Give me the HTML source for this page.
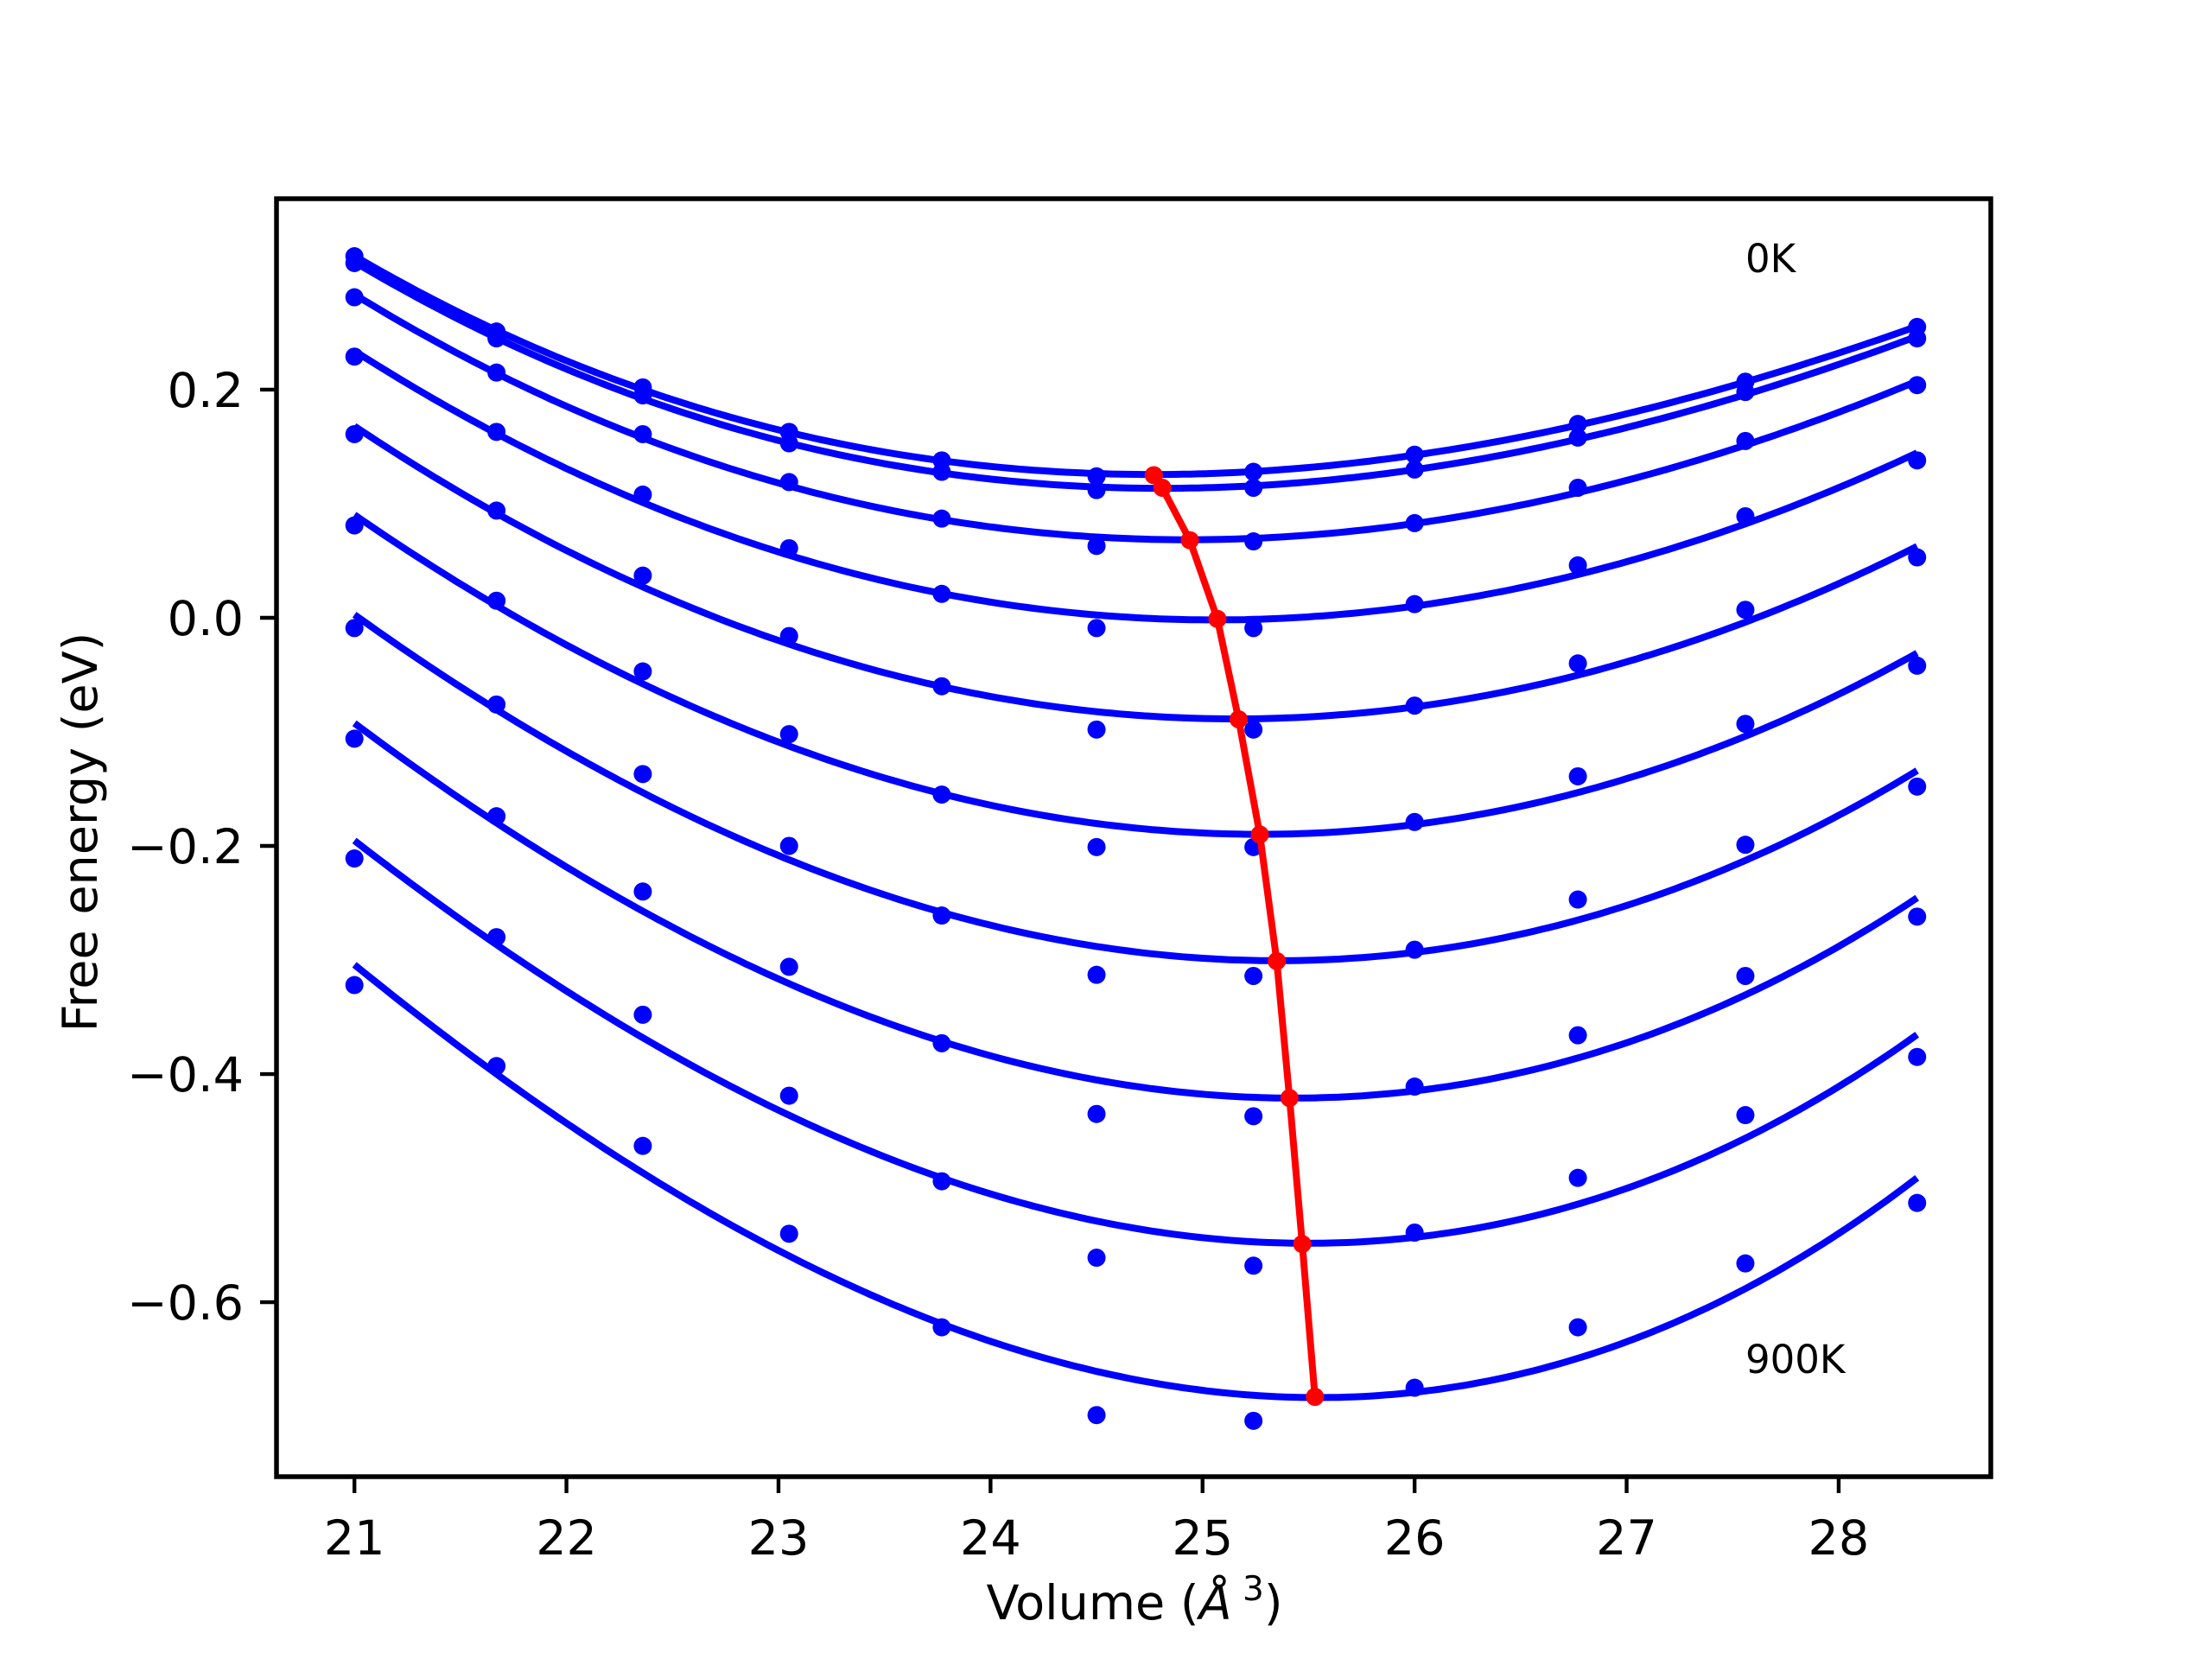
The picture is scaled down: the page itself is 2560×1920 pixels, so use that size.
<!DOCTYPE html>
<html><head><meta charset="utf-8"><style>
html,body{margin:0;padding:0;background:#fff;width:2560px;height:1920px;overflow:hidden;}
svg{display:block;}
svg text{font-family:"DejaVu Sans","Liberation Sans",sans-serif;}
</style></head><body>
<svg id="chart" xmlns="http://www.w3.org/2000/svg" width="2560" height="1920" viewBox="0 0 2560 1920">
<rect x="0" y="0" width="2560" height="1920" fill="#fff"/>
<g id="plot"></g>
<g id="axes"></g>
<text x="1313" y="1874" font-size="55.6" text-anchor="middle">Volume (<tspan font-style="italic">Å</tspan><tspan font-size="39" dy="-22"> 3</tspan><tspan dy="22">)</tspan></text>
<text x="0" y="0" font-size="55.6" text-anchor="middle" transform="translate(112,963) rotate(-90)">Free energy (eV)</text>
<text x="2020" y="315" font-size="45">0K</text>
<text x="2020" y="1589" font-size="45">900K</text>
</svg>
<script>
const volumes = [21.0, 21.67, 22.36, 23.05, 23.77, 24.5, 25.24, 26.0, 26.77, 27.56, 28.37];
const energies0K   = [0.317, 0.251, 0.202, 0.163, 0.138, 0.124, 0.128, 0.143, 0.170, 0.207, 0.255];
const energies100K = [0.311, 0.245, 0.195, 0.153, 0.128, 0.112, 0.114, 0.130, 0.158, 0.198, 0.245];
const energies200K = [0.281, 0.215, 0.161, 0.119, 0.087, 0.063, 0.067, 0.083, 0.114, 0.155, 0.204];
const energies300K = [0.229, 0.163, 0.108, 0.061, 0.021, -0.009, -0.009, 0.012, 0.046, 0.089, 0.138];
const energies400K = [0.161, 0.094, 0.037, -0.016, -0.060, -0.098, -0.098, -0.077, -0.040, 0.007, 0.053];
const energies500K = [0.081, 0.015, -0.047, -0.102, -0.155, -0.201, -0.201, -0.179, -0.139, -0.093, -0.042];
const energies600K = [-0.009, -0.076, -0.137, -0.200, -0.261, -0.313, -0.314, -0.291, -0.247, -0.199, -0.148];
const energies700K = [-0.106, -0.174, -0.240, -0.306, -0.373, -0.435, -0.437, -0.411, -0.366, -0.314, -0.262];
const energies800K = [-0.211, -0.280, -0.348, -0.419, -0.494, -0.561, -0.568, -0.539, -0.491, -0.436, -0.385];
const energies900K = [-0.322, -0.393, -0.463, -0.540, -0.622, -0.699, -0.704, -0.675, -0.622, -0.566, -0.513];
const minVolumes = [24.77, 24.81, 24.94, 25.07, 25.17, 25.27, 25.35, 25.41, 25.47, 25.53];
const minEnergies = [0.125, 0.114, 0.068, -0.001, -0.089, -0.190, -0.301, -0.421, -0.549, -0.683];
const xTicks = [21, 22, 23, 24, 25, 26, 27, 28];
const yTicks = [0.2, 0.0, -0.2, -0.4, -0.6];
const yTickLabels = ["0.2", "0.0", "\u22120.2", "\u22120.4", "\u22120.6"];

const series = [energies0K, energies100K, energies200K, energies300K, energies400K,
                energies500K, energies600K, energies700K, energies800K, energies900K];
const L = 320, R = 2304, T = 230, B = 1709;
const xMin = 20.6325, xMax = 28.7175, yMin = -0.753, yMax = 0.3674;
function sx(v){ return L + (v - xMin) / (xMax - xMin) * (R - L); }
function sy(e){ return B - (e - yMin) / (yMax - yMin) * (B - T); }
const NS = "http://www.w3.org/2000/svg";
function mk(tag, attrs, parent){ const el = document.createElementNS(NS, tag); for (const k in attrs) el.setAttribute(k, attrs[k]); parent.appendChild(el); return el; }
const plot = document.getElementById('plot');
const axes = document.getElementById('axes');

function cubicFit(xs, ys){
  const c = 24.7, n = 4;
  const A = [], b = [];
  for (let i=0;i<n;i++){ A.push(new Array(n).fill(0)); b.push(0); }
  xs.forEach((x,k)=>{ const t = x - c; const p=[1,t,t*t,t*t*t];
    for(let i=0;i<n;i++){ b[i]+=p[i]*ys[k]; for(let j=0;j<n;j++) A[i][j]+=p[i]*p[j]; } });
  for (let i=0;i<n;i++){ let m=i; for(let r=i+1;r<n;r++) if(Math.abs(A[r][i])>Math.abs(A[m][i])) m=r;
    [A[i],A[m]]=[A[m],A[i]]; [b[i],b[m]]=[b[m],b[i]];
    for(let r=i+1;r<n;r++){ const f=A[r][i]/A[i][i]; for(let j=i;j<n;j++) A[r][j]-=f*A[i][j]; b[r]-=f*b[i]; } }
  const co = new Array(n).fill(0);
  for (let i=n-1;i>=0;i--){ let s=b[i]; for(let j=i+1;j<n;j++) s-=A[i][j]*co[j]; co[i]=s/A[i][i]; }
  return x => { const t=x-c; return co[0]+co[1]*t+co[2]*t*t+co[3]*t*t*t; };
}

series.forEach((ys, si) => {
  const f = cubicFit(volumes, ys);
  const v0 = volumes[0], v1 = volumes[volumes.length-1];
  let d = "";
  for (let i=0;i<=200;i++){ const v = v0 + (v1-v0)*i/200; d += (i?"L":"M") + sx(v).toFixed(1) + "," + sy(f(v)).toFixed(1); }
  const p = mk('path', {d:d, fill:'none', stroke:'#0000ff', 'stroke-width':8}, plot);
  
  
  ys.forEach((e, i) => {
    const c = mk('circle', {cx:sx(volumes[i]), cy:sy(e), r:10.5, fill:'#0000ff'}, plot);
    
    
  });
});
let rd = "";
minVolumes.forEach((v,i)=>{ rd += (i?"L":"M") + sx(v).toFixed(1) + "," + sy(minEnergies[i]).toFixed(1); });
const rl = mk('path', {d:rd, fill:'none', stroke:'#ff0000', 'stroke-width':8, 'stroke-linejoin':'round'}, plot);


minVolumes.forEach((v,i)=>{
  const c = mk('circle', {cx:sx(v), cy:sy(minEnergies[i]), r:10.5, fill:'#ff0000'}, plot);
  
  
});

const frame = mk('rect', {x:L, y:T, width:R-L, height:B-T, fill:'none', stroke:'#000', 'stroke-width':5.5}, axes);


xTicks.forEach(v => {
  const x = sx(v);
  const tk = mk('line', {x1:x, y1:B, x2:x, y2:B+19, stroke:'#000', 'stroke-width':4.4}, axes);
  
  
  const t = mk('text', {x:x, y:B+38+52, 'font-size':55.6, 'text-anchor':'middle', fill:'#000'}, axes);
  t.textContent = String(v);
  
  
});
yTicks.forEach((e, i) => {
  const y = sy(e);
  const tk = mk('line', {x1:L-19, y1:y, x2:L, y2:y, stroke:'#000', 'stroke-width':4.4}, axes);
  
  
  const t = mk('text', {x:L-38, y:y+20, 'font-size':55.6, 'text-anchor':'end', fill:'#000'}, axes);
  t.textContent = yTickLabels[i];
  
  
});
</script>
</body></html>
